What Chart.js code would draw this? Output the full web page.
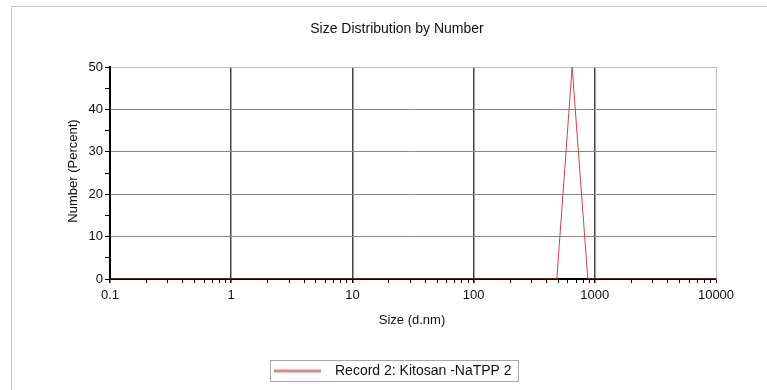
<!DOCTYPE html>
<html>
<head>
<meta charset="utf-8">
<title>Size Distribution by Number</title>
<script src="https://cdn.jsdelivr.net/npm/chart.js@4.4.1/dist/chart.umd.min.js"></script>
<style>
  html, body { margin: 0; padding: 0; background: #fff; }
  #wrap { width: 767px; height: 390px; position: relative; }
</style>
</head>
<body>
<div id="wrap"><canvas id="sizeChart"></canvas></div>
<script>
// data
const sizes = [0.1, 1, 10, 100, 486, 650, 876, 1000, 10000];
const numbers = [0, 0, 0, 0, 0, 50, 0, 0, 0];
const xTickLabels = [0.1, 1, 10, 100, 1000, 10000];
const yTickLabels = [0, 10, 20, 30, 40, 50];
const seriesName = 'Record 2: Kitosan -NaTPP 2';
const chartTitle = 'Size Distribution by Number';
const xTitle = 'Size (d.nm)';
const yTitle = 'Number (Percent)';

const FONT = '"Liberation Sans", Arial, sans-serif';
const RED = '#d8404e';

// minor tick positions (2..9 per decade, every 5 on y)
const xMinor = [];
xTickLabels.slice(0, -1).forEach(d => {
  for (let m = 2; m <= 9; m++) xMinor.push(Number((d * m).toPrecision(6)));
});
const yMinor = yTickLabels.slice(0, -1).map(v => v + 5);

const isXMajor = v => xTickLabels.some(t => Math.abs(Math.log10(t) - Math.log10(v)) < 1e-6);
const isYMajor = v => yTickLabels.includes(v);

// title, axis titles, legend box and outer frame
const decor = {
  id: 'decor',
  afterDraw(chart) {
    const ctx = chart.ctx;
    ctx.save();

    ctx.strokeStyle = '#c8c8c8';
    ctx.lineWidth = 1;
    ctx.beginPath();
    ctx.moveTo(11.5, 390);
    ctx.lineTo(11.5, 6.5);
    ctx.lineTo(767, 6.5);
    ctx.stroke();

    ctx.fillStyle = '#111';
    ctx.textBaseline = 'middle';
    ctx.textAlign = 'center';
    ctx.font = '14px ' + FONT;
    ctx.fillText(chartTitle, 397, 29);

    ctx.font = '13px ' + FONT;
    ctx.fillText(xTitle, 412, 320);

    ctx.save();
    ctx.translate(73, 171);
    ctx.rotate(-Math.PI / 2);
    ctx.fillText(yTitle, 0, 0);
    ctx.restore();

    // legend
    ctx.strokeStyle = '#a8a8a8';
    ctx.strokeRect(270.5, 360.5, 248, 21);
    ctx.strokeStyle = '#d98890';
    ctx.lineWidth = 3;
    ctx.beginPath();
    ctx.moveTo(274, 371);
    ctx.lineTo(321, 371);
    ctx.stroke();
    ctx.textAlign = 'left';
    ctx.font = '14px ' + FONT;
    ctx.fillStyle = '#111';
    ctx.fillText(seriesName, 335, 371);

    ctx.restore();
  }
};

const ctx = document.getElementById('sizeChart').getContext('2d');
new Chart(ctx, {
  type: 'scatter',
  data: {
    datasets: [{
      label: seriesName,
      data: sizes.map((s, i) => ({ x: s, y: numbers[i] })),
      showLine: true,
      borderColor: RED,
      borderWidth: 1,
      pointRadius: 0,
      tension: 0
    }]
  },
  options: {
    responsive: true,
    maintainAspectRatio: false,
    animation: false,
    layout: { padding: { left: 60, right: 51, top: 67, bottom: 81 } },
    plugins: {
      legend: { display: false },
      title: { display: false },
      tooltip: { enabled: false }
    },
    scales: {
      x: {
        type: 'logarithmic',
        min: 0.1,
        max: 10000,
        afterBuildTicks: scale => {
          scale.ticks = xTickLabels.concat(xMinor).sort((a, b) => a - b).map(v => ({ value: v }));
        },
        afterFit: scale => { scale.height = 30; },
        border: { color: '#000', width: 2 },
        grid: {
          color: c => {
            const v = c.tick && c.tick.value;
            if (v === 10000) return '#bdbdbd';
            if (v === 0.1 || !isXMajor(v)) return 'rgba(0,0,0,0)';
            return '#444';
          },
          tickColor: '#000',
          tickLength: 4,
          lineWidth: c => (c.tick && isXMajor(c.tick.value) && c.tick.value !== 10000) ? 1.5 : 1
        },
        ticks: {
          autoSkip: false,
          maxRotation: 0,
          padding: 5,
          color: '#111',
          font: { family: FONT, size: 13 },
          callback: v => isXMajor(v) ? String(xTickLabels.find(t => Math.abs(t - v) / t < 1e-6)) : ''
        }
      },
      y: {
        min: 0,
        max: 50,
        afterBuildTicks: scale => {
          scale.ticks = yTickLabels.concat(yMinor).sort((a, b) => a - b).map(v => ({ value: v }));
        },
        afterFit: scale => { scale.width = 50; },
        border: { color: '#000', width: 2 },
        grid: {
          color: c => {
            const v = c.tick && c.tick.value;
            if (v === 50) return '#bdbdbd';
            if (v === 0 || !isYMajor(v)) return 'rgba(0,0,0,0)';
            return '#888';
          },
          tickColor: '#000',
          tickLength: 5,
          lineWidth: 1
        },
        ticks: {
          autoSkip: false,
          padding: 2,
          color: '#111',
          font: { family: FONT, size: 13 },
          callback: v => isYMajor(v) ? String(v) : ''
        }
      }
    }
  },
  plugins: [decor]
});
</script>
</body>
</html>
